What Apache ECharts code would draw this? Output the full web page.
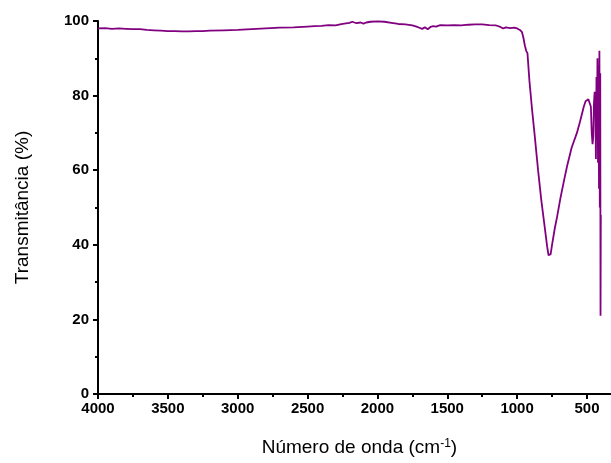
<!DOCTYPE html>
<html>
<head>
<meta charset="utf-8">
<script src="https://cdn.jsdelivr.net/npm/echarts@6/dist/echarts.min.js"></script>
<style>
html,body{margin:0;padding:0;background:#fff;overflow:hidden;}
#chart{width:664px;height:463px;}
</style>
</head>
<body>
<div id="chart"></div>
<script>
// Wavenumber (cm-1) and transmittance (%)
const wavenumbers = [4000,3950,3900,3850,3800,3750,3700,3650,3600,3550,3500,3450,3400,3350,3300,3250,3200,3100,3000,2900,2800,2700,2600,2500,2450,2400,2350,2300,2250,2200,2180,2150,2120,2100,2080,2050,2000,1950,1900,1850,1800,1750,1720,1700,1680,1660,1640,1620,1600,1580,1550,1500,1450,1400,1350,1300,1250,1200,1150,1120,1100,1080,1050,1020,1000,980,965,955,945,935,926,912,895,876,850,827,800,785,775,768,760,750,730,714,690,660,643,610,572,550,523,510,500,490,480,472,466,460,455,450,445,440,436,432,428,425,421,417,414,411,408,405,403,401];
const transmittance = [98.0,98.1,97.9,98.0,97.9,97.8,97.8,97.6,97.5,97.4,97.3,97.3,97.2,97.2,97.3,97.3,97.4,97.5,97.6,97.8,98.0,98.2,98.3,98.5,98.6,98.7,98.9,98.8,99.2,99.5,99.8,99.4,99.6,99.3,99.6,99.8,99.9,99.8,99.5,99.2,99.1,98.8,98.5,98.2,97.9,98.3,97.8,98.4,98.6,98.5,98.9,98.8,98.9,98.8,99.0,99.1,99.1,98.9,98.8,98.4,98.0,98.3,98.1,98.2,98.0,97.6,97.0,95.5,93.5,92.0,91.4,84.0,77.0,70.0,60.0,52.0,44.0,39.5,37.2,36.7,37.5,40.0,44.5,47.5,52.5,58.0,61.0,66.0,70.0,73.0,77.0,78.5,78.8,79.0,78.5,77.0,70.0,67.0,69.0,78.0,81.0,80.0,63.0,85.0,70.0,90.0,62.0,88.0,55.0,92.0,50.0,86.0,21.0,48.0];
const xTicks = [0, 4000, 500];   // axis min, max, step
const yTicks = [0, 100, 20];

const seriesData = wavenumbers.map((w, i) => [w, transmittance[i]]);
const font = 'Liberation Sans, Arial, sans-serif';

const chart = echarts.init(document.getElementById('chart'), null, {renderer: 'canvas'});
chart.setOption({
  animation: false,
  backgroundColor: '#fff',
  grid: {left: 98, top: 21, bottom: 69, right: 0, containLabel: false},
  xAxis: {
    type: 'value',
    inverse: true,
    min: xTicks[0], max: xTicks[1], interval: xTicks[2],
    name: 'Número de onda (cm{sup|-1})',
    nameLocation: 'middle',
    nameGap: 44,
    nameTextStyle: {
      fontFamily: font, fontSize: 19, color: '#000', padding: [0, 36, 0, 0],
      rich: {sup: {fontFamily: font, fontSize: 12, color: '#000', verticalAlign: 'top', padding: [0,0,8,0]}}
    },
    axisLine: {show: true, onZero: false, lineStyle: {color: '#000', width: 2}},
    axisTick: {show: true, inside: false, length: 5, lineStyle: {color: '#000', width: 2}},
    minorTick: {show: true, splitNumber: 2, length: 3, lineStyle: {color: '#000', width: 2}},
    splitLine: {show: false},
    axisLabel: {fontFamily: font, fontSize: 15, fontWeight: 'bold', color: '#000', margin: 7,
      formatter: v => String(v)}
  },
  yAxis: {
    type: 'value',
    min: yTicks[0], max: yTicks[1], interval: yTicks[2],
    name: 'Transmitância (%)',
    nameLocation: 'middle',
    nameGap: 66,
    nameTextStyle: {fontFamily: font, fontSize: 19, color: '#000'},
    axisLine: {show: true, onZero: false, lineStyle: {color: '#000', width: 2}},
    axisTick: {show: true, inside: false, length: 5, lineStyle: {color: '#000', width: 2}},
    minorTick: {show: true, splitNumber: 2, length: 3, lineStyle: {color: '#000', width: 2}},
    splitLine: {show: false},
    axisLabel: {fontFamily: font, fontSize: 15, fontWeight: 'bold', color: '#000', margin: 9,
      formatter: v => String(v)}
  },
  series: [{
    type: 'line',
    data: seriesData,
    showSymbol: false,
    symbol: 'none',
    lineStyle: {color: '#800080', width: 1.8},
    clip: true
  }]
});
</script>
</body>
</html>
